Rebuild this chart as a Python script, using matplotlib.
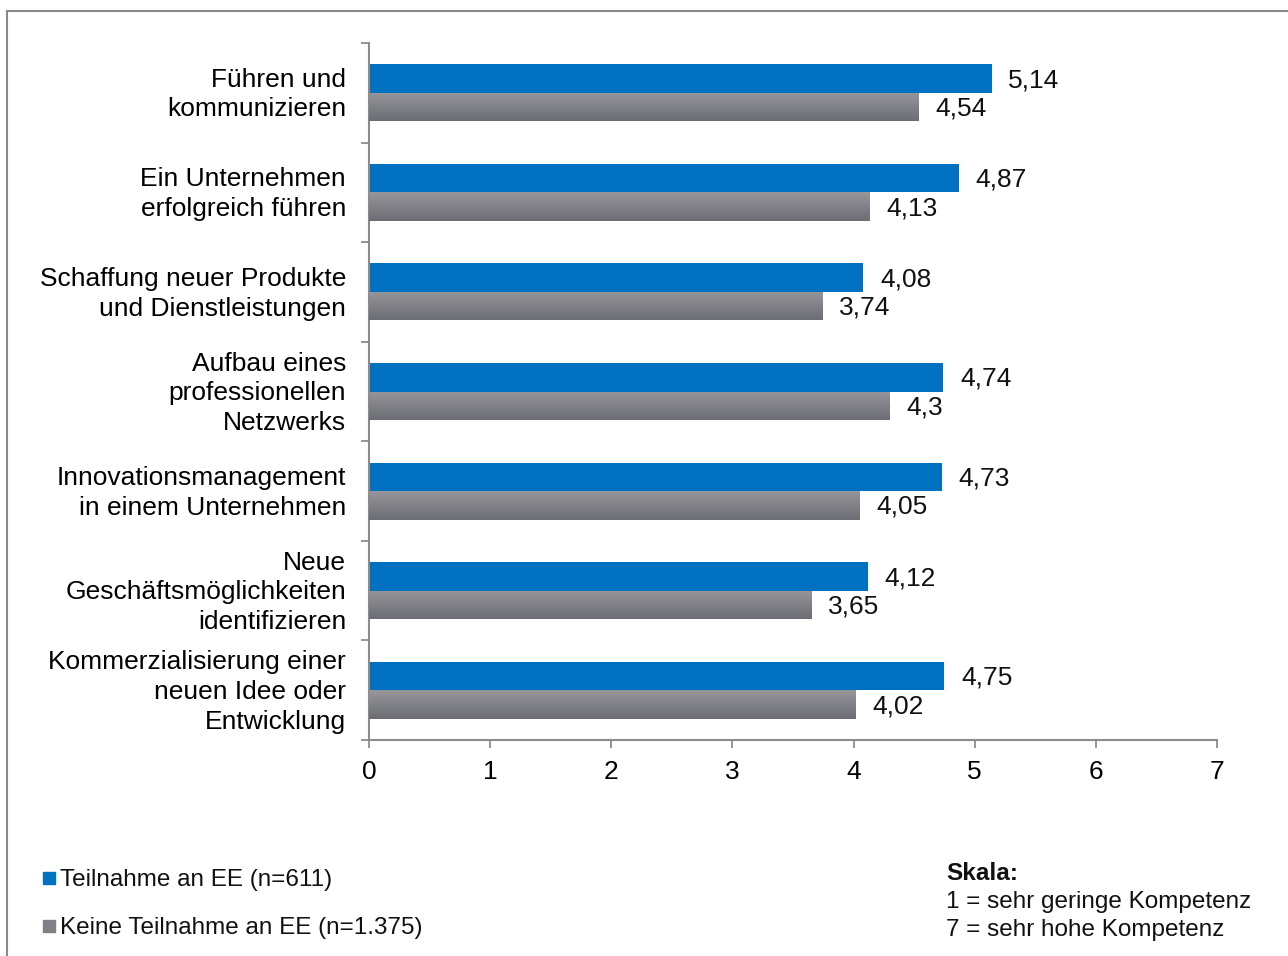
import matplotlib
matplotlib.use("Agg")
import matplotlib.pyplot as plt
import numpy as np
from matplotlib.patches import Rectangle
from matplotlib.lines import Line2D
from matplotlib.colors import LinearSegmentedColormap
from matplotlib.transforms import ScaledTranslation

plt.rcParams['font.family'] = ['Liberation Sans', 'DejaVu Sans']

categories = [
    "Führen und\nkommunizieren",
    "Ein Unternehmen\nerfolgreich führen",
    "Schaffung neuer Produkte\nund Dienstleistungen",
    "Aufbau eines\nprofessionellen\nNetzwerks",
    "Innovationsmanagement\nin einem Unternehmen",
    "Neue\nGeschäftsmöglichkeiten\nidentifizieren",
    "Kommerzialisierung einer\nneuen Idee oder\nEntwicklung",
]
teilnahme = [5.14, 4.87, 4.08, 4.74, 4.73, 4.12, 4.75]
keine_teilnahme = [4.54, 4.13, 3.74, 4.30, 4.05, 3.65, 4.02]
series_labels = ["Teilnahme an EE (n=611)", "Keine Teilnahme an EE (n=1.375)"]
x_ticks = [0, 1, 2, 3, 4, 5, 6, 7]

BLUE = "#0070C0"
AXIS_GREY = "#8C8C8C"
FS = 19
FS_SMALL = 17.5

W, H = 1288, 956
fig = plt.figure(figsize=(W / 100, H / 100), dpi=100)
ax = fig.add_axes([369 / W, 1 - 740 / H, (1217 - 369) / W, (740 - 43) / H])

y = np.arange(len(categories))
h = 0.286

bars_blue = ax.barh(y - h / 2, teilnahme, height=h, color=BLUE, zorder=2)
bars_grey = ax.barh(y + h / 2, keine_teilnahme, height=h, color="#818187", zorder=2)

# vertical grey gradient inside the second series
grey_cmap = LinearSegmentedColormap.from_list("g", ["#96969b", "#6c6c74"])
grad = np.linspace(0, 1, 64).reshape(-1, 1)
for b in bars_grey:
    x0, y0, bw, bh = b.get_x(), b.get_y(), b.get_width(), b.get_height()
    im = ax.imshow(grad, cmap=grey_cmap, aspect="auto",
                   extent=(x0, x0 + bw, y0 + bh, y0), zorder=3,
                   interpolation="bilinear")
    im.set_clip_path(b)

for bars, vals in ((bars_blue, teilnahme), (bars_grey, keine_teilnahme)):
    for b, v in zip(bars, vals):
        ax.annotate(f"{v:g}".replace(".", ","), (v, b.get_y() + b.get_height() / 2),
                    xytext=(12, -1.2), textcoords="offset points",
                    ha="left", va="center", fontsize=FS, color="#111111")

ax.set_xlim(0, 7)
ax.set_ylim(len(categories) - 0.5, -0.5)
ax.set_xticks(x_ticks)
ax.set_xticklabels([str(t) for t in x_ticks], fontsize=FS)
ax.set_yticks(y)
ax.set_yticklabels(categories, fontsize=FS, linespacing=1.3)
ax.tick_params(axis="y", length=0, pad=16.5)
ax.set_yticks(np.arange(-0.5, len(categories)), minor=True)
ax.tick_params(axis="y", which="minor", length=6, color=AXIS_GREY, width=1.3)
ax.tick_params(axis="x", length=6, color=AXIS_GREY, width=1.3, pad=8.5)

# nudge category labels slightly upward
lift = ScaledTranslation(0, 3.5 / 100, fig.dpi_scale_trans)
for lbl in ax.get_yticklabels():
    lbl.set_transform(lbl.get_transform() + lift)

for s in ["top", "right"]:
    ax.spines[s].set_visible(False)
for s in ["left", "bottom"]:
    ax.spines[s].set_color(AXIS_GREY)
    ax.spines[s].set_linewidth(1.5)

# outer frame (top and left edges)
fig.add_artist(Line2D([7 / W, 1], [1 - 11 / H, 1 - 11 / H], color="#8a8a8a", lw=1.5))
fig.add_artist(Line2D([7 / W, 7 / W], [0, 1 - 11 / H], color="#8a8a8a", lw=1.5))

# legend
for i, (lab, col) in enumerate(zip(series_labels, [BLUE, "#808086"])):
    yc = 878 + 48 * i
    fig.add_artist(Rectangle((43 / W, 1 - (yc + 6) / H), 12 / W, 12 / H,
                             transform=fig.transFigure, color=col))
    fig.text(60 / W, 1 - (yc + 2) / H, lab, fontsize=FS_SMALL, va="center", ha="left",
             color="#111111")

# scale note
fig.text(946 / W, 1 - 874 / H, "Skala:", fontsize=FS_SMALL, fontweight="bold",
         va="center", ha="left", color="#111111")
fig.text(946 / W, 1 - 902 / H, "1 = sehr geringe Kompetenz", fontsize=FS_SMALL,
         va="center", ha="left", color="#111111")
fig.text(946 / W, 1 - 930 / H, "7 = sehr hohe Kompetenz", fontsize=FS_SMALL,
         va="center", ha="left", color="#111111")

fig.savefig("out.png", dpi=100)
